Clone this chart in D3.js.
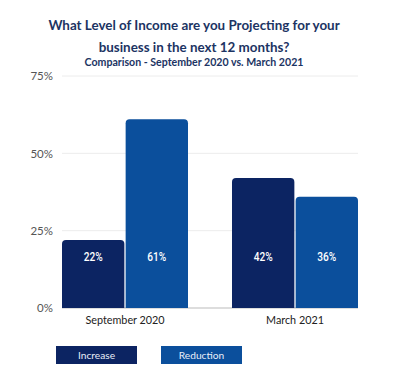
<!DOCTYPE html>
<html><head><meta charset="utf-8">
<script src="https://cdn.jsdelivr.net/npm/d3@7"></script>
<style>body{margin:0;background:#fff;}svg{display:block;}</style>
</head><body>
<script>
const categories = ["September 2020", "March 2021"];
const seriesNames = ["Increase", "Reduction"];
const increase = [22, 42];
const reduction = [61, 36];
const yTicks = [0, 25, 50, 75];
const colors = ["#0c2462", "#0b4f9c"];
const titleLines = ["What Level of Income are you Projecting for your", "business in the next 12 months?"];
const subtitle = "Comparison - September 2020 vs. March 2021";

const W = 400, H = 390;
const svg = d3.select("body").append("svg").attr("width", W).attr("height", H);
const font = "Lato, 'Open Sans', sans-serif";

svg.selectAll("text.title").data(titleLines).join("text")
  .attr("x", 194).attr("y", (d, i) => 30 + i * 22)
  .attr("text-anchor", "middle").attr("font-family", font)
  .attr("font-weight", 700).attr("font-size", 13.4).attr("fill", "#1c3463").text(d => d);
svg.append("text").attr("x", 194).attr("y", 66).attr("text-anchor", "middle")
  .attr("font-family", font).attr("font-weight", 700).attr("font-size", 10.6)
  .attr("fill", "#1c3463").text(subtitle);

const x = d3.scaleBand().domain(categories).range([62, 358]).paddingInner(0.2588).paddingOuter(0);
const xi = d3.scaleBand().domain(seriesNames).range([0, x.bandwidth()]).paddingInner(0.02);
const y = d3.scaleLinear().domain([0, 75]).range([308, 76]);

const g = svg.append("g");
g.selectAll("line.grid").data(yTicks).join("line")
  .attr("x1", 62).attr("x2", 358).attr("y1", d => y(d)).attr("y2", d => y(d))
  .attr("stroke", d => d === 0 ? "#bbb" : "#ececec").attr("stroke-width", 1);

const yAxis = d3.axisLeft(y).tickValues(yTicks).tickFormat(d => d + "%").tickSize(0).tickPadding(9);
const ya = svg.append("g").attr("transform", "translate(62,0)").call(yAxis);
ya.select(".domain").remove();
ya.selectAll("text").attr("font-family", font).attr("font-size", 11.5).attr("fill", "#555");

const data = [];
categories.forEach((c, i) => {
  data.push({cat: c, s: "Increase", v: increase[i], color: colors[0]});
  data.push({cat: c, s: "Reduction", v: reduction[i], color: colors[1]});
});

function topRounded(x0, y0, w, h, r) {
  return `M${x0},${y0 + h}V${y0 + r}Q${x0},${y0} ${x0 + r},${y0}H${x0 + w - r}Q${x0 + w},${y0} ${x0 + w},${y0 + r}V${y0 + h}Z`;
}

g.selectAll("path.bar").data(data).join("path")
  .attr("d", d => {
    const x0 = x(d.cat) + xi(d.s);
    return topRounded(x0, y(d.v), xi.bandwidth(), y(0) - y(d.v), 4);
  })
  .attr("fill", d => d.color);

g.selectAll("text.val").data(data).join("text")
  .attr("transform", d => `translate(${x(d.cat) + xi(d.s) + xi.bandwidth() / 2},261) scale(0.78,1)`)
  .attr("text-anchor", "middle")
  .attr("font-family", "Roboto, sans-serif")
  .attr("font-weight", 500).attr("font-size", 13).attr("fill", "#fff")
  .text(d => d.v + "%");

const xAxis = d3.axisBottom(x).tickSize(0).tickPadding(8);
const xa = svg.append("g").attr("transform", "translate(0,308)").call(xAxis);
xa.select(".domain").remove();
xa.selectAll("text").attr("font-family", font).attr("font-size", 10.8).attr("fill", "#222");

const lg = svg.selectAll("g.leg").data(seriesNames).join("g")
  .attr("transform", (d, i) => `translate(${56 + i * 105},346)`);
lg.append("rect").attr("width", 81).attr("height", 18).attr("fill", (d, i) => colors[i]);
lg.append("text").attr("x", 40.5).attr("y", 13).attr("text-anchor", "middle")
  .attr("font-family", font).attr("font-size", 10.2).attr("fill", "#e8eef8").text(d => d);
</script>
</body></html>
